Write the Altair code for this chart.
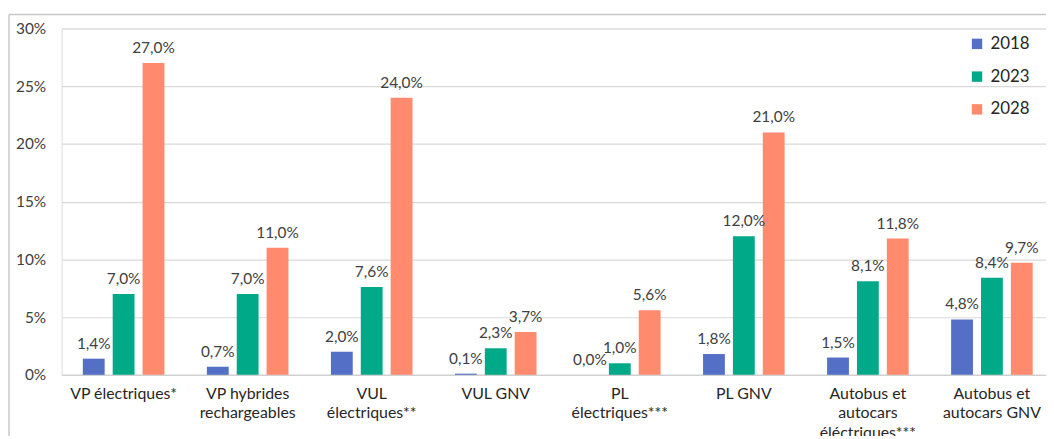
import altair as alt
import pandas as pd

categories = ["VP électriques*", "VP hybrides|rechargeables", "VUL|électriques**", "VUL GNV",
              "PL|électriques***", "PL GNV", "Autobus et|autocars|éléctriques***", "Autobus et|autocars GNV"]
years = ["2018", "2023", "2028"]
v2018 = [1.4, 0.7, 2.0, 0.1, 0.0, 1.8, 1.5, 4.8]
v2023 = [7.0, 7.0, 7.6, 2.3, 1.0, 12.0, 8.1, 8.4]
v2028 = [27.0, 11.0, 24.0, 3.7, 5.6, 21.0, 11.8, 9.7]
colors = ["#5470c6", "#00aa88", "#ff8a6e"]

rows = []
for y, vals in zip(years, [v2018, v2023, v2028]):
    for c, v in zip(categories, vals):
        rows.append({"cat": c, "year": y, "value": v})
df = pd.DataFrame(rows)

FONT = "Lato"

x = alt.X("cat:N", sort=categories, title=None,
          scale=alt.Scale(range=[0, 1000], paddingInner=0.28, paddingOuter=0.14),
          axis=alt.Axis(labelAngle=0, labelExpr="split(datum.value, '|')", labelFontSize=16,
                        labelColor="#262626", labelFont=FONT, labelBaseline="top",
                        labelPadding=11, labelLineHeight=19.5, ticks=False,
                        domainColor="#d0d0d0", domainWidth=1.2, grid=False))
xo = alt.XOffset("year:N", sort=years,
                 scale=alt.Scale(paddingInner=0.27, paddingOuter=0.13))
y = alt.Y("value:Q", title=None,
          scale=alt.Scale(domain=[0, 30], nice=False),
          axis=alt.Axis(values=[0, 5, 10, 15, 20, 25, 30], labelExpr="datum.value + '%'",
                        labelFontSize=15.5, labelColor="#404040", labelFont=FONT,
                        labelPadding=16, ticks=False, domain=False,
                        gridColor="#d9d9d9", gridWidth=1.2))

base = alt.Chart(df).encode(x=x, xOffset=xo)

bars = base.mark_bar(size=22).encode(
    y=y,
    color=alt.Color("year:N", sort=years, scale=alt.Scale(domain=years, range=colors),
                    legend=alt.Legend(title=None, orient="none", legendX=914, legendY=7,
                                      symbolType="square", symbolSize=110, symbolStrokeWidth=0,
                                      labelFontSize=17, labelFont=FONT, labelColor="#262626",
                                      rowPadding=15, labelOffset=5)),
)

labels = base.transform_calculate(
    lbl="replace(format(datum.value, '.1f'), '.', ',') + '%'"
).mark_text(baseline="alphabetic", dy=-10, fontSize=15.5, font=FONT, color="#404040").encode(
    y=alt.Y("value:Q"),
    text="lbl:N",
)

frame_df = pd.DataFrame({"a": [0]})
frame_left = alt.Chart(frame_df).mark_rule(color="#c8c8c8", strokeWidth=1.5).encode(
    x=alt.value(-53), y=alt.value(-14), y2=alt.value(420))
frame_top = alt.Chart(frame_df).mark_rule(color="#c8c8c8", strokeWidth=1.5).encode(
    x=alt.value(-53), x2=alt.value(1000), y=alt.value(-14))

chart = alt.layer(bars, labels, frame_left, frame_top).properties(
    width=992, height=349,
    autosize=alt.AutoSizeParams(type="none"),
    padding={"left": 54, "top": 19, "right": 0, "bottom": 60},
).configure_view(stroke=None).configure(background="white")

chart.save("out.html", embed_options={"renderer": "svg", "actions": False})
